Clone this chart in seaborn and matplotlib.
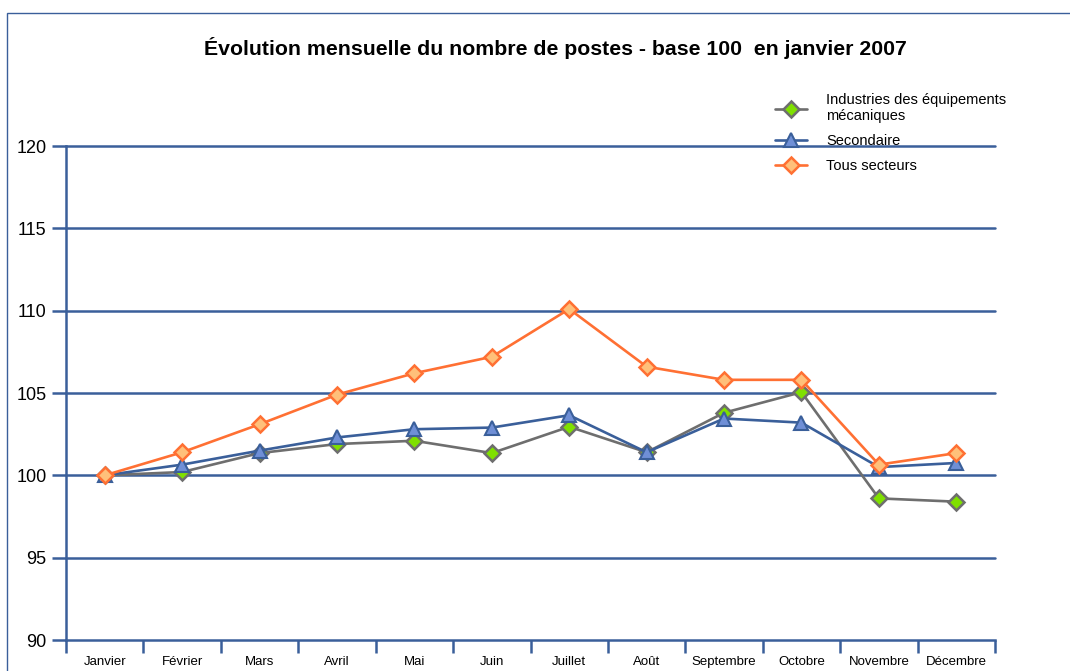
import pandas as pd
import matplotlib
matplotlib.use('Agg')
import matplotlib.pyplot as plt
from matplotlib.patches import Rectangle
import seaborn as sns
import numpy as np

# Données (base 100 en janvier 2007)
mois = ['Janvier', 'Février', 'Mars', 'Avril', 'Mai', 'Juin', 'Juillet',
        'Août', 'Septembre', 'Octobre', 'Novembre', 'Décembre']
industries_meca = [100.0, 100.2, 101.35, 101.9, 102.1, 101.35, 102.95,
                   101.4, 103.8, 105.05, 98.6, 98.4]
secondaire = [100.0, 100.65, 101.5, 102.3, 102.8, 102.9, 103.65,
              101.4, 103.45, 103.2, 100.5, 100.75]
tous_secteurs = [100.0, 101.4, 103.1, 104.9, 106.2, 107.2, 110.1,
                 106.6, 105.8, 105.8, 100.65, 101.35]
y_ticks = [90, 95, 100, 105, 110, 115, 120]

bleu = '#3A5F9A'

sns.set_theme(style='white')
plt.rcParams['font.family'] = ['Liberation Sans', 'DejaVu Sans']
plt.rcParams['text.color'] = 'black'
plt.rcParams['xtick.labelcolor'] = 'black'
plt.rcParams['ytick.labelcolor'] = 'black'

fig = plt.figure(figsize=(10.7, 6.71), dpi=100)
ax = fig.add_axes([66 / 1070, 1 - 640 / 671, 929 / 1070, 494 / 671])

x = np.arange(len(mois))

series = [
    ('Industries des équipements\nmécaniques', industries_meca,
     dict(color='#6E6E6E', marker='D', markerfacecolor='#7FE000',
          markeredgecolor='#6E6E6E', markersize=8, markeredgewidth=1.8)),
    ('Secondaire', secondaire,
     dict(color=bleu, marker='^', markerfacecolor='#6F8FD6',
          markeredgecolor=bleu, markersize=10.5, markeredgewidth=1.5)),
    ('Tous secteurs', tous_secteurs,
     dict(color='#FF7033', marker='D', markerfacecolor='#FFC07A',
          markeredgecolor='#FF7033', markersize=8, markeredgewidth=1.8)),
]

for nom, valeurs, style in series:
    sns.lineplot(x=x, y=valeurs, ax=ax, label=nom, linewidth=1.9,
                 clip_on=False, zorder=3, **style)

# Grille horizontale et axes
for v in y_ticks[1:]:
    ax.axhline(v, color=bleu, linewidth=1.8, zorder=1, clip_on=False)

ax.set_xlim(-0.5, len(mois) - 0.5)
ax.set_ylim(90, 120)
ax.set_yticks(y_ticks)
ax.set_yticklabels([str(v) for v in y_ticks], fontsize=13)

ax.set_xticks(np.arange(-0.5, len(mois), 1.0))
ax.set_xticklabels([])
ax.set_xticks(x, minor=True)
ax.set_xticklabels(mois, minor=True, fontsize=9.5)
ax.tick_params(axis='x', which='minor', length=0, pad=11.5)
ax.tick_params(axis='x', which='major', direction='out', length=9,
               width=1.8, color=bleu, bottom=True)
ax.tick_params(axis='y', direction='out', length=10, width=1.8,
               color=bleu, left=True, pad=4)

for side in ['top', 'right']:
    ax.spines[side].set_visible(False)
for side in ['left', 'bottom']:
    ax.spines[side].set_color(bleu)
    ax.spines[side].set_linewidth(1.8)
ax.grid(False)
ax.set_xlabel('')
ax.set_ylabel('')

leg = ax.legend(loc='upper left', bbox_to_anchor=(762 / 1070, 1 - 80 / 671),
                bbox_transform=fig.transFigure, frameon=False, fontsize=10.5,
                handlelength=2.2, labelspacing=0.75, handletextpad=1.3)

fig.text(0.519, 1 - 48 / 671, 'Évolution mensuelle du nombre de postes - base 100  en janvier 2007',
         ha='center', va='center', fontsize=15.3, fontweight='bold')

# Cadre autour du graphique
fig.patches.append(Rectangle((7 / 1070, -0.05), 1.1, 1 - 13 / 671 + 0.05,
                             transform=fig.transFigure, fill=False,
                             edgecolor=bleu, linewidth=1.0, zorder=0))

fig.savefig('out.png', dpi=100)
